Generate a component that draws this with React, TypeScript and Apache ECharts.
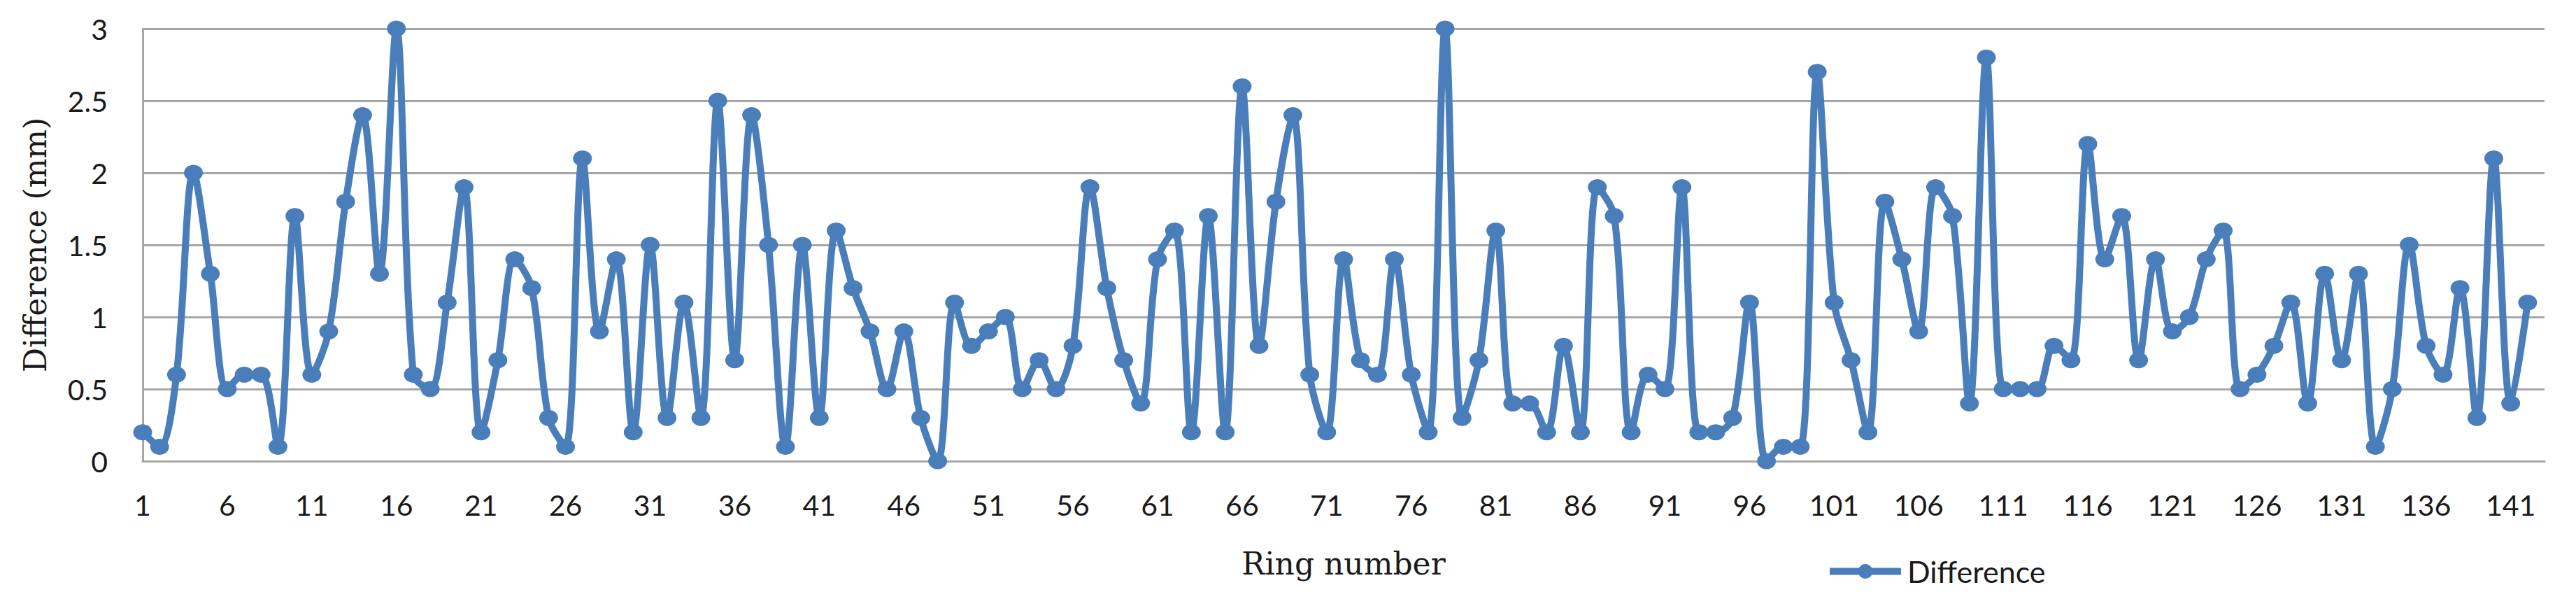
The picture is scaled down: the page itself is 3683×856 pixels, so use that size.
import React, { useEffect, useRef } from "react";
import * as echarts from "echarts";

const ringNumbers: string[] = Array.from({ length: 143 }, (_, i) => String(i + 1));

const differenceValues: number[] = [
  0.2, 0.1, 0.6, 2.0, 1.3, 0.5, 0.6, 0.6, 0.1, 1.7,
  0.6, 0.9, 1.8, 2.4, 1.3, 3.0, 0.6, 0.5, 1.1, 1.9,
  0.2, 0.7, 1.4, 1.2, 0.3, 0.1, 2.1, 0.9, 1.4, 0.2,
  1.5, 0.3, 1.1, 0.3, 2.5, 0.7, 2.4, 1.5, 0.1, 1.5,
  0.3, 1.6, 1.2, 0.9, 0.5, 0.9, 0.3, 0.0, 1.1, 0.8,
  0.9, 1.0, 0.5, 0.7, 0.5, 0.8, 1.9, 1.2, 0.7, 0.4,
  1.4, 1.6, 0.2, 1.7, 0.2, 2.6, 0.8, 1.8, 2.4, 0.6,
  0.2, 1.4, 0.7, 0.6, 1.4, 0.6, 0.2, 3.0, 0.3, 0.7,
  1.6, 0.4, 0.4, 0.2, 0.8, 0.2, 1.9, 1.7, 0.2, 0.6,
  0.5, 1.9, 0.2, 0.2, 0.3, 1.1, 0.0, 0.1, 0.1, 2.7,
  1.1, 0.7, 0.2, 1.8, 1.4, 0.9, 1.9, 1.7, 0.4, 2.8,
  0.5, 0.5, 0.5, 0.8, 0.7, 2.2, 1.4, 1.7, 0.7, 1.4,
  0.9, 1.0, 1.4, 1.6, 0.5, 0.6, 0.8, 1.1, 0.4, 1.3,
  0.7, 1.3, 0.1, 0.5, 1.5, 0.8, 0.6, 1.2, 0.3, 2.1,
  0.4, 1.1,
];

const seriesName = "Difference";
const xTitle = "Ring number";
const yTitle = "Difference (mm)";

export default function App() {
  const ref = useRef<HTMLDivElement>(null);
  useEffect(() => {
    if (!ref.current) return;
    const chart = echarts.init(ref.current, null, { renderer: "svg" });
    const blue = "#4A7EBB";
    const grid = "#A6A6A6";
    chart.setOption({
      animation: false,
      backgroundColor: "#ffffff",
      grid: { left: 204, right: 45, top: 41, bottom: 197, containLabel: false },
      legend: {
        data: [seriesName],
        left: 2606,
        top: 790,
        itemWidth: 102,
        itemHeight: 26,
        itemGap: 10,
        lineStyle: { width: 10 },
        textStyle: { fontFamily: "Lato", fontSize: 43, color: "#1a1a1a", padding: [0, 0, 0, 4] },
      },
      xAxis: {
        type: "category",
        data: ringNumbers,
        boundaryGap: false,
        name: xTitle,
        nameLocation: "middle",
        nameGap: 124,
        nameTextStyle: { fontFamily: "DejaVu Serif", fontSize: 44, color: "#1a1a1a" },
        axisLine: { show: true, lineStyle: { color: grid, width: 3 } },
        axisTick: { show: false },
        axisLabel: {
          interval: 4,
          margin: 42,
          fontFamily: "Lato",
          fontSize: 41,
          color: "#1a1a1a",
        },
        splitLine: { show: false },
      },
      yAxis: {
        type: "value",
        min: 0,
        max: 3,
        interval: 0.5,
        name: yTitle,
        nameLocation: "middle",
        nameGap: 132,
        nameRotate: 90,
        nameTextStyle: { fontFamily: "DejaVu Serif", fontSize: 44, color: "#1a1a1a" },
        axisLine: { show: true, lineStyle: { color: grid, width: 3 } },
        axisTick: { show: false },
        axisLabel: {
          margin: 50,
          fontFamily: "Lato",
          fontSize: 41,
          color: "#1a1a1a",
        },
        splitLine: { show: true, lineStyle: { color: grid, width: 3 } },
      },
      series: [
        {
          name: seriesName,
          type: "line",
          data: differenceValues,
          smooth: 0.33,
          clip: false,
          symbol: "circle",
          symbolSize: [27, 23],
          showAllSymbol: true,
          lineStyle: { color: blue, width: 10 },
          itemStyle: { color: blue },
        },
      ],
    });
    return () => chart.dispose();
  }, []);
  return (
    <div
      ref={ref}
      style={{ position: "fixed", left: 0, top: 0, width: 3683, height: 856, background: "#fff" }}
    />
  );
}
